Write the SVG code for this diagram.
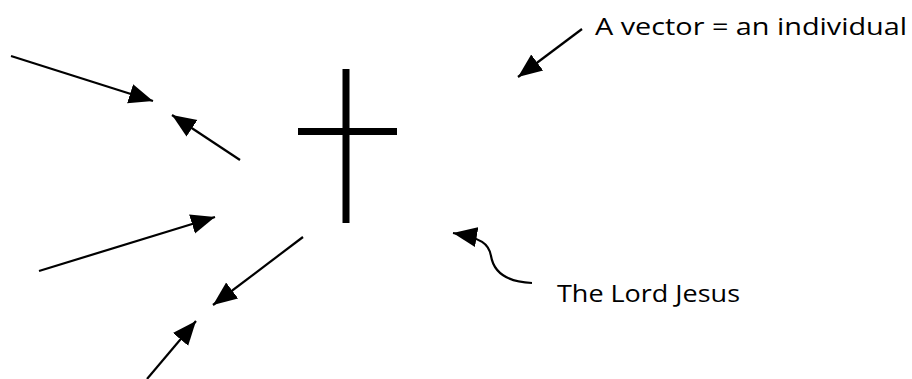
<svg xmlns="http://www.w3.org/2000/svg" width="912" height="379" viewBox="0 0 912 379">
<style>
.c{stroke:#000;stroke-width:2.2;fill:none;marker-end:url(#ah)}
.t{font-family:"Comic Sans MS","Open Sans","DejaVu Sans",sans-serif;font-size:24px;fill:#000}
</style>
<defs>
<marker id="ah" markerUnits="userSpaceOnUse" markerWidth="26" markerHeight="22" refX="24" refY="10" orient="auto" viewBox="0 0 26 20">
<path d="M0,0 L24,10 L0,20 Z" fill="#000"/>
</marker>
</defs>
<rect width="912" height="379" fill="#fff"/>
<g id="cross">
<rect x="342.5" y="69" width="7" height="154" fill="#000"/>
<rect x="298" y="128" width="99" height="7" fill="#000"/>
</g>
<g id="label-vector">
<text class="t" x="595" y="35" textLength="312" lengthAdjust="spacingAndGlyphs">A vector = an individual</text>
</g>
<g id="label-jesus">
<text class="t" x="557" y="302" textLength="183" lengthAdjust="spacingAndGlyphs">The Lord Jesus</text>
</g>
<g id="connectors">
<line class="c" x1="11" y1="56" x2="153" y2="101"/>
<line class="c" x1="240" y1="160" x2="172" y2="115"/>
<line class="c" x1="39" y1="271" x2="215" y2="217"/>
<line class="c" x1="303" y1="237" x2="213" y2="305"/>
<line class="c" x1="147" y1="379" x2="196" y2="321"/>
<line class="c" x1="582" y1="29" x2="518" y2="77"/>
<path class="c" d="M532,283 C510,282 494,274 491,256 C489,244 482,238 453,233"/>
</g>
</svg>
